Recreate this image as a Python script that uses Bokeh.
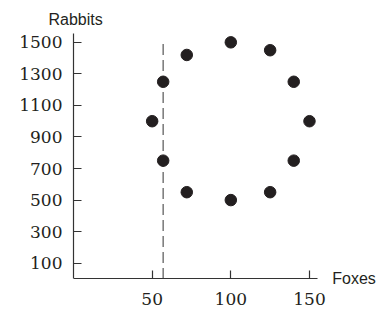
from bokeh.plotting import figure
from bokeh.models import ColumnDataSource, Label, FixedTicker, Title
from bokeh.embed import file_html
from bokeh.resources import INLINE

foxes = [50, 57, 57, 72, 72, 100, 100, 125, 125, 140, 140, 150]
rabbits = [1000, 1250, 750, 1420, 550, 1500, 500, 1450, 550, 1250, 750, 1000]
x_ticks = [50, 100, 150]
y_ticks = [100, 300, 500, 700, 900, 1100, 1300, 1500]
dash_x = [57]
dash_bottom = [0]
dash_top = [1500]
x_axis_end = 155
y_axis_end = 1556

p = figure(width=376, height=313, output_backend="svg", toolbar_location=None,
           x_range=(0, 192.6), y_range=(-219, y_axis_end),
           min_border_left=73, min_border_right=0, min_border_top=33, min_border_bottom=0)
p.outline_line_color = None
p.grid.visible = False
p.background_fill_color = "white"
p.border_fill_color = "white"

for ax in (p.xaxis[0], p.yaxis[0]):
    ax.axis_line_color = "#333333"
    ax.axis_line_width = 1.2
    ax.major_tick_line_color = "#333333"
    ax.major_tick_line_width = 1.2
    ax.major_tick_in = 8
    ax.major_tick_out = 0
    ax.minor_tick_line_color = None
    ax.major_label_text_font = "DejaVu Serif"
    ax.major_label_text_font_size = "17px"
    ax.major_label_text_color = "#231f20"

p.xaxis[0].ticker = FixedTicker(ticks=x_ticks)
p.yaxis[0].ticker = FixedTicker(ticks=y_ticks)
p.xaxis[0].bounds = (0, x_axis_end)
p.xaxis[0].fixed_location = 0
p.yaxis[0].bounds = (0, y_axis_end)
p.xaxis[0].major_label_standoff = 14
p.yaxis[0].major_label_standoff = 11

p.segment(x0=dash_x, y0=dash_bottom, x1=dash_x, y1=dash_top,
          line_color="#777777", line_width=1.5, line_dash="11 5")

src = ColumnDataSource(dict(x=foxes, y=rabbits))
p.scatter("x", "y", source=src, size=11.5, fill_color="#231f20", line_color="#231f20")

p.add_layout(Label(x=164.5, y=0, text="Foxes", text_font="Liberation Sans",
                   text_font_size="16px", text_baseline="middle", text_align="left",
                   text_color="#231f20", y_offset=0))
p.add_layout(Title(text="Rabbits", align="left", offset=-25, text_font="Liberation Sans",
                   text_font_size="16px", text_font_style="normal",
                   text_color="#231f20", standoff=12), "above")

open("out.html", "w").write(file_html(p, INLINE))
